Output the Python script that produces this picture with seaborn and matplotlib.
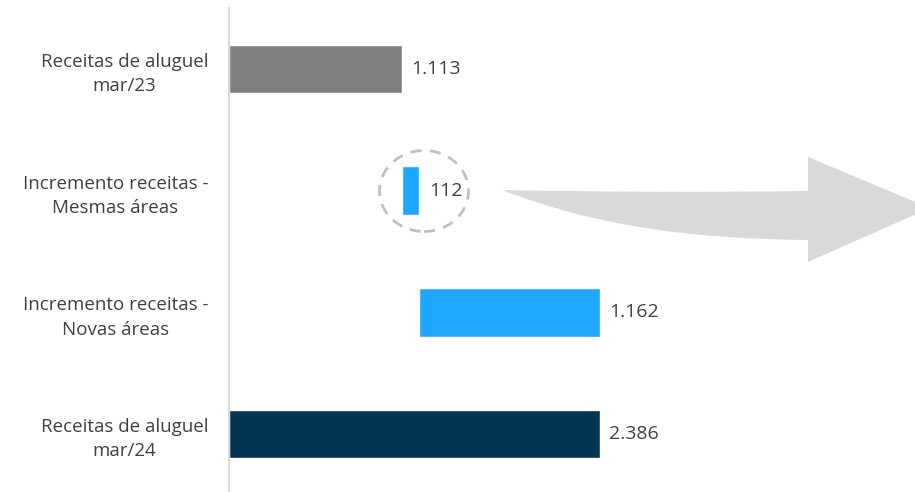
import matplotlib
matplotlib.use("Agg")
import matplotlib.pyplot as plt
import seaborn as sns
import pandas as pd
from matplotlib.patches import Ellipse, PathPatch
from matplotlib.path import Path

# Dados do gráfico (R$ mil)
categorias = ["Receitas de aluguel\nmar/23",
              "Incremento receitas -\nMesmas áreas",
              "Incremento receitas -\nNovas áreas",
              "Receitas de aluguel\nmar/24"]
valores = [1113, 112, 1162, 2386]
bases = [0, 1113, 1225, 0]
rotulos = ["1.113", "112", "1.162", "2.386"]
cores = ["#808080", "#1EA7FD", "#1EA7FD", "#003554"]

df = pd.DataFrame({"categoria": categorias, "valor": valores})

sns.set_style("white")
plt.rcParams["font.family"] = ["Open Sans", "DejaVu Sans"]

fig = plt.figure(figsize=(9.15, 4.92), dpi=100)
ax = fig.add_axes([229 / 915, 0, 1 - 229 / 915, 484 / 492])

sns.barplot(data=df, y="categoria", x="valor", hue="categoria",
            palette=cores, legend=False, width=0.4, ax=ax, saturation=1)

# desloca as barras para formar a cascata
for patch, base in zip(ax.patches, bases):
    patch.set_x(base)

for i, (v, b, r) in enumerate(zip(valores, bases, rotulos)):
    ax.text(b + v + 60, i, r, va="center", ha="left",
            fontsize=14, color="#404040")

ax.set_xlim(0, 686 / 0.1554)
ax.set_ylim(3.477, -0.5)
ax.set_xlabel("")
ax.set_ylabel("")
ax.set_xticks([])
for s in ["top", "right", "bottom"]:
    ax.spines[s].set_visible(False)
ax.spines["left"].set_color("#d9d9d9")
ax.spines["left"].set_linewidth(1.5)
ax.tick_params(axis="y", length=0, pad=15, labelsize=13.5, labelcolor="#404040")
for lbl in ax.get_yticklabels():
    lbl.set_multialignment("center")
    lbl.set_linespacing(1.45)

# círculo tracejado em volta do incremento
H = 492
circ = Ellipse((424, H - 191), 89, 81, transform=None, fill=False,
               edgecolor="#c0c0c0", linestyle=(0, (4, 3)), linewidth=2)
fig.patches.append(circ)

# seta curva decorativa
verts = [(502, 190), (650, 193), (808, 191), (808, 157), (930, 208),
         (808, 262), (808, 240),
         (700, 239), (600, 228), (502, 190)]
codes = [Path.MOVETO, Path.CURVE3, Path.CURVE3, Path.LINETO, Path.LINETO,
         Path.LINETO, Path.LINETO,
         Path.CURVE4, Path.CURVE4, Path.CURVE4]
verts = [(x, H - y) for x, y in verts]
seta = PathPatch(Path(verts, codes), transform=None, facecolor="#d9d9d9",
                 edgecolor="none")
fig.patches.append(seta)

fig.savefig("out.png", dpi=100)
